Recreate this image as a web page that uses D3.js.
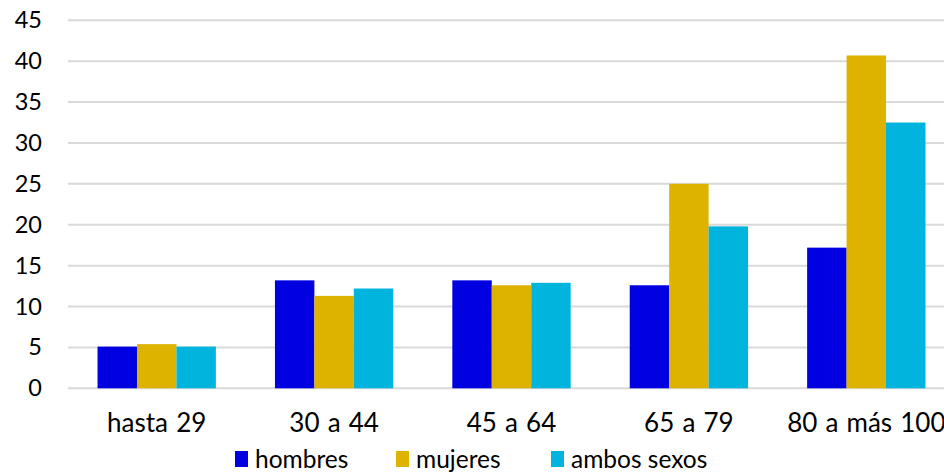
<!DOCTYPE html>
<html><head><meta charset="utf-8">
<script src="https://cdn.jsdelivr.net/npm/d3@7"></script>
<style>body{margin:0;background:#fff}svg{display:block}</style>
</head><body><svg id="c" width="944" height="472"></svg>
<script>
const categories = ["hasta 29","30 a 44","45 a 64","65 a 79","80 a más 100"];
const seriesNames = ["hombres","mujeres","ambos sexos"];
const hombres = [5.1, 13.2, 13.2, 12.6, 17.2];
const mujeres = [5.4, 11.3, 12.6, 25.0, 40.7];
const ambos = [5.1, 12.2, 12.9, 19.8, 32.5];
const yTicks = [0,5,10,15,20,25,30,35,40,45];
const colors = ["#0000e0","#deb300","#00b4dd"];
const values = [hombres, mujeres, ambos];

const svg = d3.select("#c");
const font = "Lato, Carlito, 'Liberation Sans', sans-serif";
const x = d3.scaleBand().domain(categories).range([68, 955]).paddingInner(0.333).paddingOuter(0.1665);
const x1 = d3.scaleBand().domain(seriesNames).range([0, x.bandwidth()]);
const y = d3.scaleLinear().domain([0,45]).range([388.3, 20.3]);

svg.append("g").selectAll("line").data(yTicks).join("line")
  .attr("x1",68).attr("x2",944).attr("y1",d=>y(d)).attr("y2",d=>y(d))
  .attr("stroke","#d9d9d9").attr("stroke-width",2);

const ya = svg.append("g").attr("transform","translate(42,0)")
  .call(d3.axisLeft(y).tickValues(yTicks).tickSize(0).tickPadding(0));
ya.select(".domain").remove();
ya.selectAll("text").attr("font-family",font).attr("font-size",23.5).attr("fill","#000");

const groups = svg.append("g").selectAll("g").data(categories).join("g")
  .attr("transform",c=>`translate(${x(c)},0)`);
groups.selectAll("rect").data((c,i)=>seriesNames.map((s,j)=>({s, v:values[j][i], j})))
  .join("rect")
  .attr("x",d=>x1(d.s)).attr("width",x1.bandwidth())
  .attr("y",d=>y(d.v)).attr("height",d=>y(0)-y(d.v))
  .attr("fill",d=>colors[d.j]);

const xa = svg.append("g").attr("transform",`translate(0,${y(0)})`)
  .call(d3.axisBottom(x).tickSize(0).tickPadding(0));
xa.select(".domain").remove();
xa.selectAll("text").attr("dy",null).attr("y",43.3).attr("font-family",font)
  .attr("font-size",26).attr("word-spacing","1.5px").attr("fill","#000");

const legX = [235, 396, 551];
const leg = svg.append("g").selectAll("g").data(seriesNames).join("g")
  .attr("transform",(d,i)=>`translate(${legX[i]},451)`);
leg.append("rect").attr("width",13).attr("height",16).attr("fill",(d,i)=>colors[i]);
leg.append("text").attr("x",20).attr("y",17).text(d=>d)
  .attr("font-family",font).attr("font-size",24.5).attr("fill","#000");
</script></body></html>
